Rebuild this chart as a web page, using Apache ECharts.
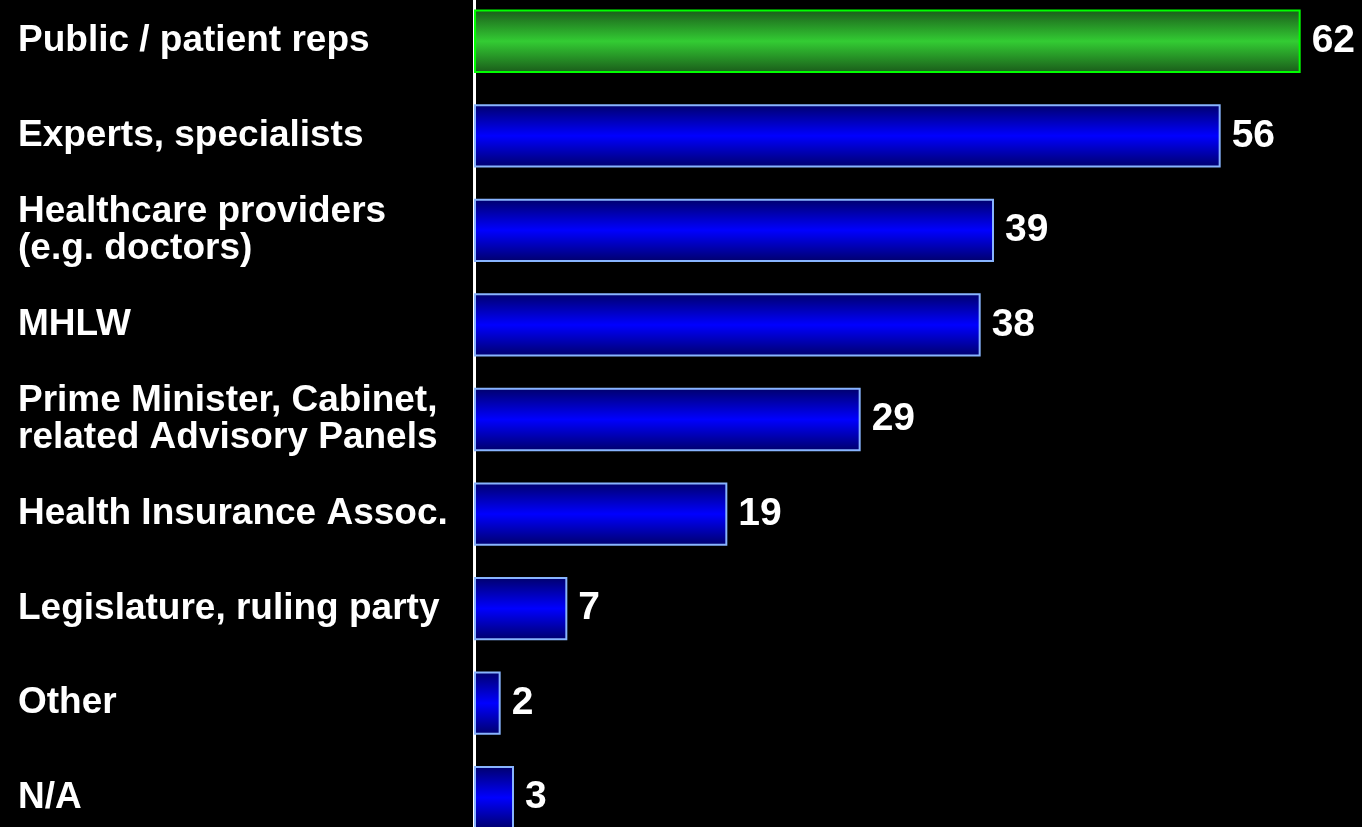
<!DOCTYPE html>
<html>
<head>
<meta charset="utf-8">
<script src="https://cdn.jsdelivr.net/npm/echarts@6/dist/echarts.min.js"></script>
<style>
html,body{margin:0;padding:0;background:#000;}
#chart{width:1362px;height:827px;}
</style>
</head>
<body>
<div id="chart"></div>
<script>
const categories = [
  'Public / patient reps',
  'Experts, specialists',
  'Healthcare providers\n(e.g. doctors)',
  'MHLW',
  'Prime Minister, Cabinet,\nrelated Advisory Panels',
  'Health Insurance Assoc.',
  'Legislature, ruling party',
  'Other',
  'N/A'
];
const values = [62, 56, 39, 38, 29, 19, 7, 2, 3];
const highlightIndex = 0;

const font = '"Liberation Sans", Arial, Helvetica, sans-serif';

function grad(edge, mid) {
  return new echarts.graphic.LinearGradient(0, 0, 0, 1, [
    {offset: 0, color: edge},
    {offset: 0.5, color: mid},
    {offset: 1, color: edge}
  ]);
}

const greenStyle = {color: grad('#1a5a1a', '#33cc33'), borderColor: '#00ff00', borderWidth: 2};
const blueStyle = {color: grad('#00006a', '#0000ff'), borderColor: '#88b4ff', borderWidth: 2};

const seriesData = values.map((v, i) => ({
  value: v,
  itemStyle: i === highlightIndex ? greenStyle : blueStyle
}));

const chart = echarts.init(document.getElementById('chart'), null, {renderer: 'canvas'});
chart.setOption({
  backgroundColor: '#000000',
  animation: false,
  grid: {left: 474, right: 8, top: -6, height: 851, containLabel: false, outerBoundsMode: 'none'},
  xAxis: {
    type: 'value', min: 0, max: 66,
    show: false
  },
  yAxis: {
    type: 'category',
    data: categories,
    inverse: true,
    axisLine: {show: true, lineStyle: {color: '#ffffff', width: 3}},
    axisTick: {show: false},
    splitLine: {show: false},
    axisLabel: {
      align: 'left',
      margin: 456,
      color: '#ffffff',
      fontFamily: font,
      fontWeight: 'bold',
      fontSize: 37,
      lineHeight: 37,
      padding: [4, 0, 0, 0]
    }
  },
  series: [{
    type: 'bar',
    data: seriesData,
    barCategoryGap: '33%',
    label: {
      show: true,
      position: 'right',
      distance: 11,
      color: '#ffffff',
      fontFamily: font,
      fontWeight: 'bold',
      fontSize: 39
    }
  }]
});
</script>
</body>
</html>
